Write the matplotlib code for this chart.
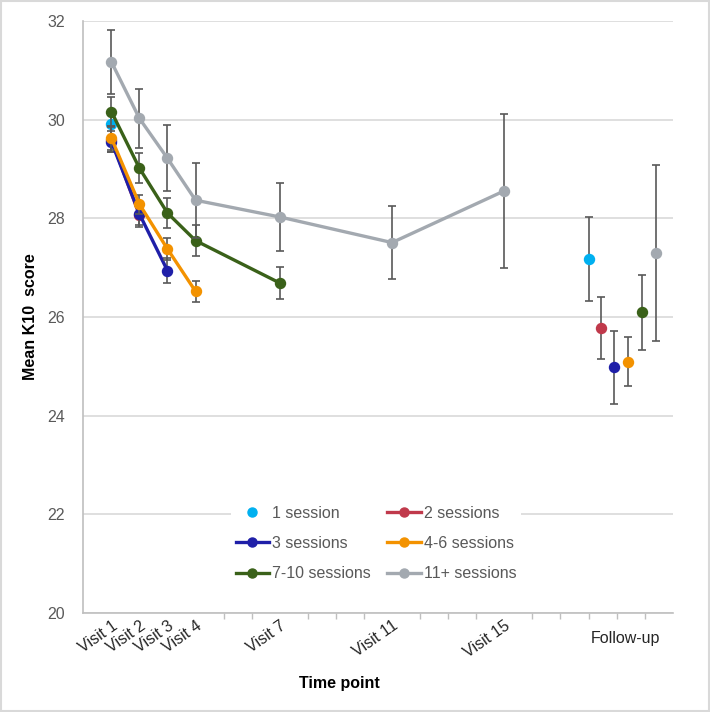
import matplotlib
matplotlib.use("Agg")
import matplotlib.pyplot as plt
from matplotlib.patches import Rectangle
from matplotlib.lines import Line2D

plt.rcParams['font.family'] = ['Liberation Sans', 'DejaVu Sans']

# ---- data ----
visit_x = [1, 2, 3, 4, 7, 11, 15]
visit_labels = ["Visit 1", "Visit 2", "Visit 3", "Visit 4", "Visit 7", "Visit 11", "Visit 15"]
followup_label = "Follow-up"
followup_label_x = 19.3

series_names = ["1 session", "2 sessions", "3 sessions", "4-6 sessions", "7-10 sessions", "11+ sessions"]
series_colors = ["#00B0F0", "#C0394B", "#1F1FA8", "#F39200", "#3A6119", "#A3A9B0"]

means_1 = [29.91]
err_1 = [0.25]
means_2 = [29.60, 28.07]
err_2 = [0.25, 0.24]
means_3 = [29.56, 28.09, 26.94]
err_3 = [0.22, 0.22, 0.25]
means_46 = [29.63, 28.29, 27.38, 26.52]
err_46 = [0.25, 0.19, 0.22, 0.22]
means_710 = [30.17, 29.02, 28.11, 27.55, 26.69]
err_710 = [0.30, 0.31, 0.30, 0.32, 0.33]
means_11 = [31.18, 30.03, 29.22, 28.37, 28.03, 27.51, 28.56]
err_11 = [0.65, 0.60, 0.67, 0.76, 0.69, 0.74, 1.56]

followup_x = [18.0, 18.45, 18.9, 19.4, 19.9, 20.4]
followup_means = [27.17, 25.77, 24.98, 25.09, 26.10, 27.30]
followup_err = [0.85, 0.63, 0.74, 0.50, 0.76, 1.79]

series_means = [means_1, means_2, means_3, means_46, means_710, means_11]
series_errs = [err_1, err_2, err_3, err_46, err_710, err_11]

# ---- figure ----
fig = plt.figure(figsize=(7.10, 7.12), dpi=100)
ax = fig.add_axes([0.1173, 0.1396, 0.8302, 0.8304])

ecol = "#595959"
ms = 7.2
for i, (name, col, m, e) in enumerate(zip(series_names, series_colors, series_means, series_errs)):
    xs = visit_x[:len(m)]
    ax.errorbar(xs, m, yerr=e, fmt='none', ecolor=ecol, elinewidth=1.2,
                capsize=2.8, capthick=1.2, zorder=2 + i)
    ax.plot(xs, m, color=col, lw=2.4, marker='o', ms=ms, zorder=3 + i,
            solid_capstyle='round')
    ax.errorbar([followup_x[i]], [followup_means[i]], yerr=[followup_err[i]], fmt='none',
                ecolor=ecol, elinewidth=1.2, capsize=2.8, capthick=1.2, zorder=2 + i)
    ax.plot([followup_x[i]], [followup_means[i]], color=col, marker='o', ms=ms,
            linestyle='none', zorder=3 + i)

ax.set_xlim(0, 21)
ax.set_ylim(20, 32)
ax.set_yticks([20, 22, 24, 26, 28, 30, 32])
ax.yaxis.grid(True, color="#D9D9D9", lw=1.2)
ax.set_axisbelow(True)
ax.tick_params(axis='y', length=0, pad=13, labelsize=11.5, labelcolor="#595959")

ax.set_xticks(visit_x + [followup_label_x])
ax.set_xticklabels(visit_labels + [followup_label])
ax.set_xticks(range(1, 21), minor=True)
ax.tick_params(axis='x', which='major', length=0, labelsize=11.5, labelcolor="#262626", pad=4)
ax.tick_params(axis='x', which='minor', length=4, color="#BFBFBF", width=1)
for lbl in ax.get_xticklabels():
    if lbl.get_text() != followup_label:
        lbl.set_rotation(35)
        lbl.set_ha('right')
        lbl.set_va('top')
        lbl.set_rotation_mode('anchor')
    else:
        lbl.set_y(-0.022)

for s in ['top', 'right']:
    ax.spines[s].set_visible(False)
ax.spines['left'].set_color("#BFBFBF")
ax.spines['bottom'].set_color("#BFBFBF")
ax.spines['left'].set_linewidth(1.2)
ax.spines['bottom'].set_linewidth(1.2)

ax.set_ylabel("Mean K10  score", fontsize=11.5, fontweight='bold', color="black")
ax.set_xlabel("Time point", fontsize=11.5, fontweight='bold', color="black")
ax.yaxis.set_label_coords(-0.077, 0.5)
ax.xaxis.set_label_coords(0.435, -0.107)

handles = []
for i, (name, col) in enumerate(zip(series_names, series_colors)):
    if i == 0:
        handles.append(Line2D([], [], color=col, marker='o', ms=6.5, linestyle='none', label=name))
    else:
        handles.append(Line2D([], [], color=col, marker='o', ms=6.5, lw=2.4, label=name))
# row-wise ordering (matplotlib fills columns first)
order = [0, 2, 4, 1, 3, 5]
handles = [handles[k] for k in order]
leg = ax.legend(handles=handles, ncol=2, loc='center', bbox_to_anchor=(0.4966, 0.117),
                frameon=True, facecolor='white', edgecolor='none', framealpha=1,
                fontsize=11.5, handlelength=2.1, handletextpad=0.2, columnspacing=1.0,
                labelspacing=0.95, borderpad=0.3)
for t in leg.get_texts():
    t.set_color("#595959")
leg.set_zorder(20)

fig.patches.append(Rectangle((0.001, 0.001), 0.997, 0.997, transform=fig.transFigure,
                             fill=False, edgecolor="#D9D9D9", lw=1.5))

fig.savefig("out.png", dpi=100, facecolor='white')
